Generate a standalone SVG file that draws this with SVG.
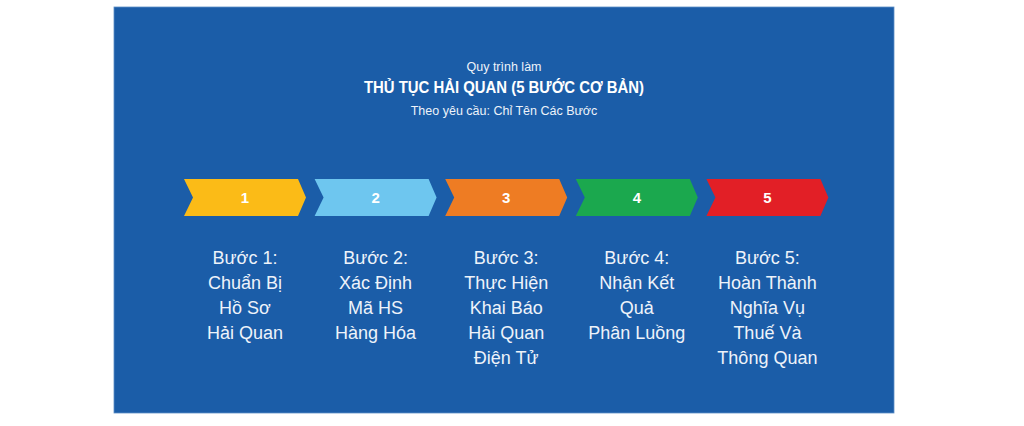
<svg xmlns="http://www.w3.org/2000/svg" width="1024" height="426" viewBox="0 0 1024 426">
<style>
  .t { font-family: "Liberation Sans", Arial, sans-serif; fill: #ffffff; text-anchor: middle; }
  .sub { font-size: 12.5px; fill: #eef3fa; }
  .title { font-size: 16px; font-weight: bold; }
  .num { font-size: 15px; font-weight: bold; }
  .lbl { font-size: 18px; fill: #eef3fa; }
</style>
<defs>
  <polygon id="chev" points="0,0 114,0 122,18.5 114,37 0,37 9,18.5"/>
</defs>
<rect x="0" y="0" width="1024" height="426" fill="#ffffff"/>
<rect id="panel" x="114" y="7" width="780" height="406" fill="#1b5da8" stroke="#5d8fc6" stroke-width="0.8"/>
<g id="header">
  <text class="t sub" x="504" y="71">Quy trình làm</text>
  <text class="t title" x="504" y="93" textLength="280" lengthAdjust="spacingAndGlyphs">THỦ TỤC HẢI QUAN (5 BƯỚC CƠ BẢN)</text>
  <text class="t sub" x="504" y="115" font-size="12px">Theo yêu cầu: Chỉ Tên Các Bước</text>
</g>
<g id="connectors"></g>
<g id="step1">
  <use href="#chev" x="184" y="179" fill="#fbbb17"/>
  <text class="t num" x="245" y="203">1</text>
  <text class="t lbl"><tspan x="245" y="264">Bước 1:</tspan><tspan x="245" y="289">Chuẩn Bị</tspan><tspan x="245" y="314">Hồ Sơ</tspan><tspan x="245" y="339">Hải Quan</tspan></text>
</g>
<g id="step2">
  <use href="#chev" x="314.6" y="179" fill="#6ec6ef"/>
  <text class="t num" x="375.6" y="203">2</text>
  <text class="t lbl"><tspan x="375.6" y="264">Bước 2:</tspan><tspan x="375.6" y="289">Xác Định</tspan><tspan x="375.6" y="314">Mã HS</tspan><tspan x="375.6" y="339">Hàng Hóa</tspan></text>
</g>
<g id="step3">
  <use href="#chev" x="445.2" y="179" fill="#ee7c23"/>
  <text class="t num" x="506.2" y="203">3</text>
  <text class="t lbl"><tspan x="506.2" y="264">Bước 3:</tspan><tspan x="506.2" y="289">Thực Hiện</tspan><tspan x="506.2" y="314">Khai Báo</tspan><tspan x="506.2" y="339">Hải Quan</tspan><tspan x="506.2" y="364">Điện Tử</tspan></text>
</g>
<g id="step4">
  <use href="#chev" x="575.8" y="179" fill="#1ba84e"/>
  <text class="t num" x="636.8" y="203">4</text>
  <text class="t lbl"><tspan x="636.8" y="264">Bước 4:</tspan><tspan x="636.8" y="289">Nhận Kết</tspan><tspan x="636.8" y="314">Quả</tspan><tspan x="636.8" y="339">Phân Luồng</tspan></text>
</g>
<g id="step5">
  <use href="#chev" x="706.4" y="179" fill="#e21f26"/>
  <text class="t num" x="767.4" y="203">5</text>
  <text class="t lbl"><tspan x="767.4" y="264">Bước 5:</tspan><tspan x="767.4" y="289">Hoàn Thành</tspan><tspan x="767.4" y="314">Nghĩa Vụ</tspan><tspan x="767.4" y="339">Thuế Và</tspan><tspan x="767.4" y="364">Thông Quan</tspan></text>
</g>
</svg>
